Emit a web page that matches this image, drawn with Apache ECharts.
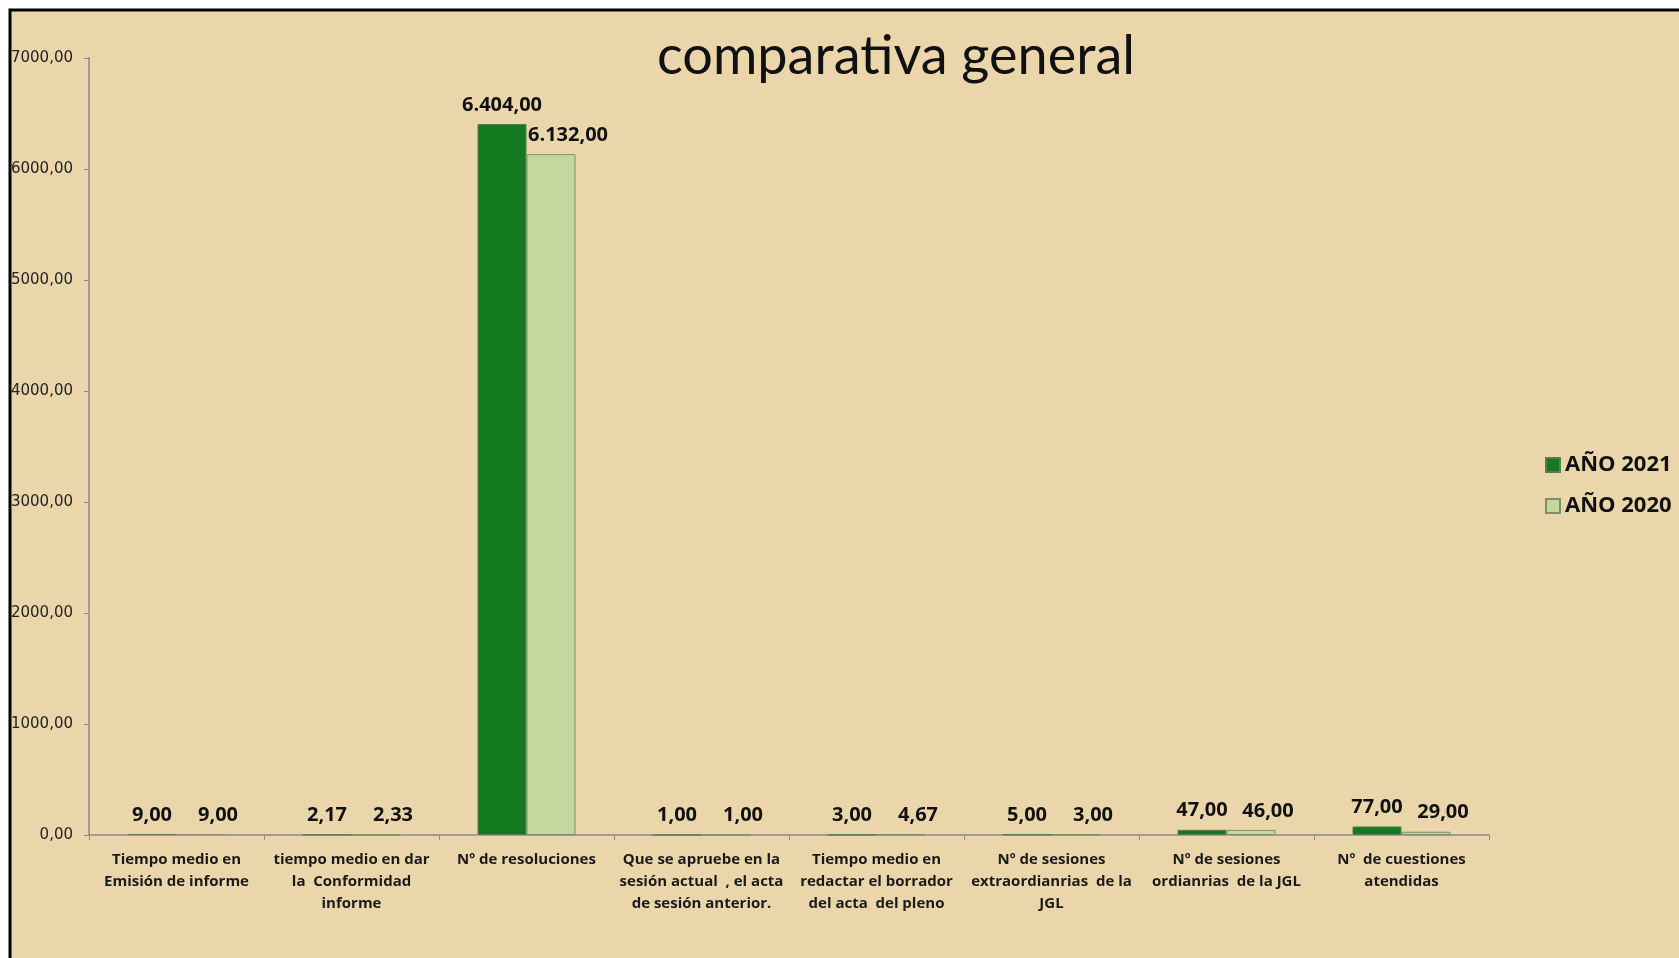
<!DOCTYPE html>
<html>
<head>
<meta charset="utf-8">
<script src="https://cdn.jsdelivr.net/npm/echarts@6/dist/echarts.min.js"></script>
<style>
html,body{margin:0;padding:0;background:#ffffff;}
#chart{width:1679px;height:958px;}
</style>
</head>
<body>
<div id="chart"></div>
<script>
const categories = [
  'Tiempo medio en\nEmisión de informe',
  'tiempo medio en dar\nla  Conformidad\ninforme',
  'Nº de resoluciones',
  'Que se apruebe en la\nsesión actual  , el acta\nde sesión anterior.',
  'Tiempo medio en\nredactar el borrador\ndel acta  del pleno',
  'Nº de sesiones\nextraordianrias  de la\nJGL',
  'Nº de sesiones\nordianrias  de la JGL',
  'Nº  de cuestiones\natendidas'
];
const seriesNames = ['AÑO 2021', 'AÑO 2020'];
const values2021 = [9, 2.17, 6404, 1, 3, 5, 47, 77];
const values2020 = [9, 2.33, 6132, 1, 4.67, 3, 46, 29];
const yTicks = { min: 0, max: 7000, interval: 1000 };
const titleText = 'comparativa general';

function fmtAxis(v) { return v.toFixed(2).replace('.', ','); }
function fmtLabel(v) {
  const parts = v.toFixed(2).split('.');
  parts[0] = parts[0].replace(/\B(?=(\d{3})+(?!\d))/g, '.');
  return parts.join(',');
}

const BOLD_FONT = 'Open Sans';
const chart = echarts.init(document.getElementById('chart'));
function labelStyle(offsetX) {
  return {
    show: true, position: 'top', distance: 9, offset: [offsetX, 0],
    fontFamily: BOLD_FONT, fontWeight: 'bold', fontSize: 20, color: '#111',
    formatter: p => fmtLabel(p.value)
  };
}
chart.setOption({
  backgroundColor: '#ffffff',
  animation: false,
  graphic: [{
    type: 'rect', z: -10, silent: true,
    shape: { x: 10, y: 10, width: 1720, height: 1000 },
    style: { fill: '#ead6aa', stroke: null }
  }, {
    type: 'rect', z: 100, silent: true,
    shape: { x: 10, y: 10, width: 1720, height: 1000 },
    style: { fill: null, stroke: '#000', lineWidth: 3 }
  }],
  title: {
    text: titleText, left: 891, top: 25, textAlign: 'center',
    textStyle: { fontFamily: 'Lato', fontWeight: 'normal', fontSize: 54, color: '#111' }
  },
  legend: {
    orient: 'vertical', left: 1540, top: 449, itemWidth: 14, itemHeight: 14, itemGap: 19,
    icon: 'rect',
    textStyle: { fontFamily: BOLD_FONT, fontWeight: 'bold', fontSize: 22, color: '#111' },
    data: seriesNames
  },
  grid: { left: 89, right: 190, top: 57.8, bottom: 123 },
  xAxis: {
    type: 'category', data: categories,
    axisLine: { lineStyle: { color: '#8a8a8a', width: 1.5 } },
    axisTick: { show: true, length: 5, lineStyle: { color: '#8a8a8a' } },
    axisLabel: { interval: 0, margin: 14, lineHeight: 22, fontFamily: BOLD_FONT, fontWeight: 'bold', fontSize: 15, color: '#1a1a1a' }
  },
  yAxis: {
    type: 'value', min: yTicks.min, max: yTicks.max, interval: yTicks.interval,
    splitLine: { show: false },
    axisLine: { show: true, lineStyle: { color: '#8a8a8a', width: 1.5 } },
    axisTick: { show: true, length: 5, lineStyle: { color: '#8a8a8a' } },
    axisLabel: { margin: 16, fontFamily: 'DejaVu Sans', fontSize: 15, color: '#222', formatter: fmtAxis }
  },
  series: [
    { name: seriesNames[0], type: 'bar', data: values2021, barWidth: 49, barGap: '0%',
      itemStyle: { color: '#137a1f', borderColor: '#5d7a55', borderWidth: 1 }, label: labelStyle(0) },
    { name: seriesNames[1], type: 'bar', data: values2020, barWidth: 49,
      itemStyle: { color: '#c3d89f', borderColor: '#7f8f6a', borderWidth: 1 }, label: labelStyle(17) }
  ]
});
</script>
</body>
</html>
